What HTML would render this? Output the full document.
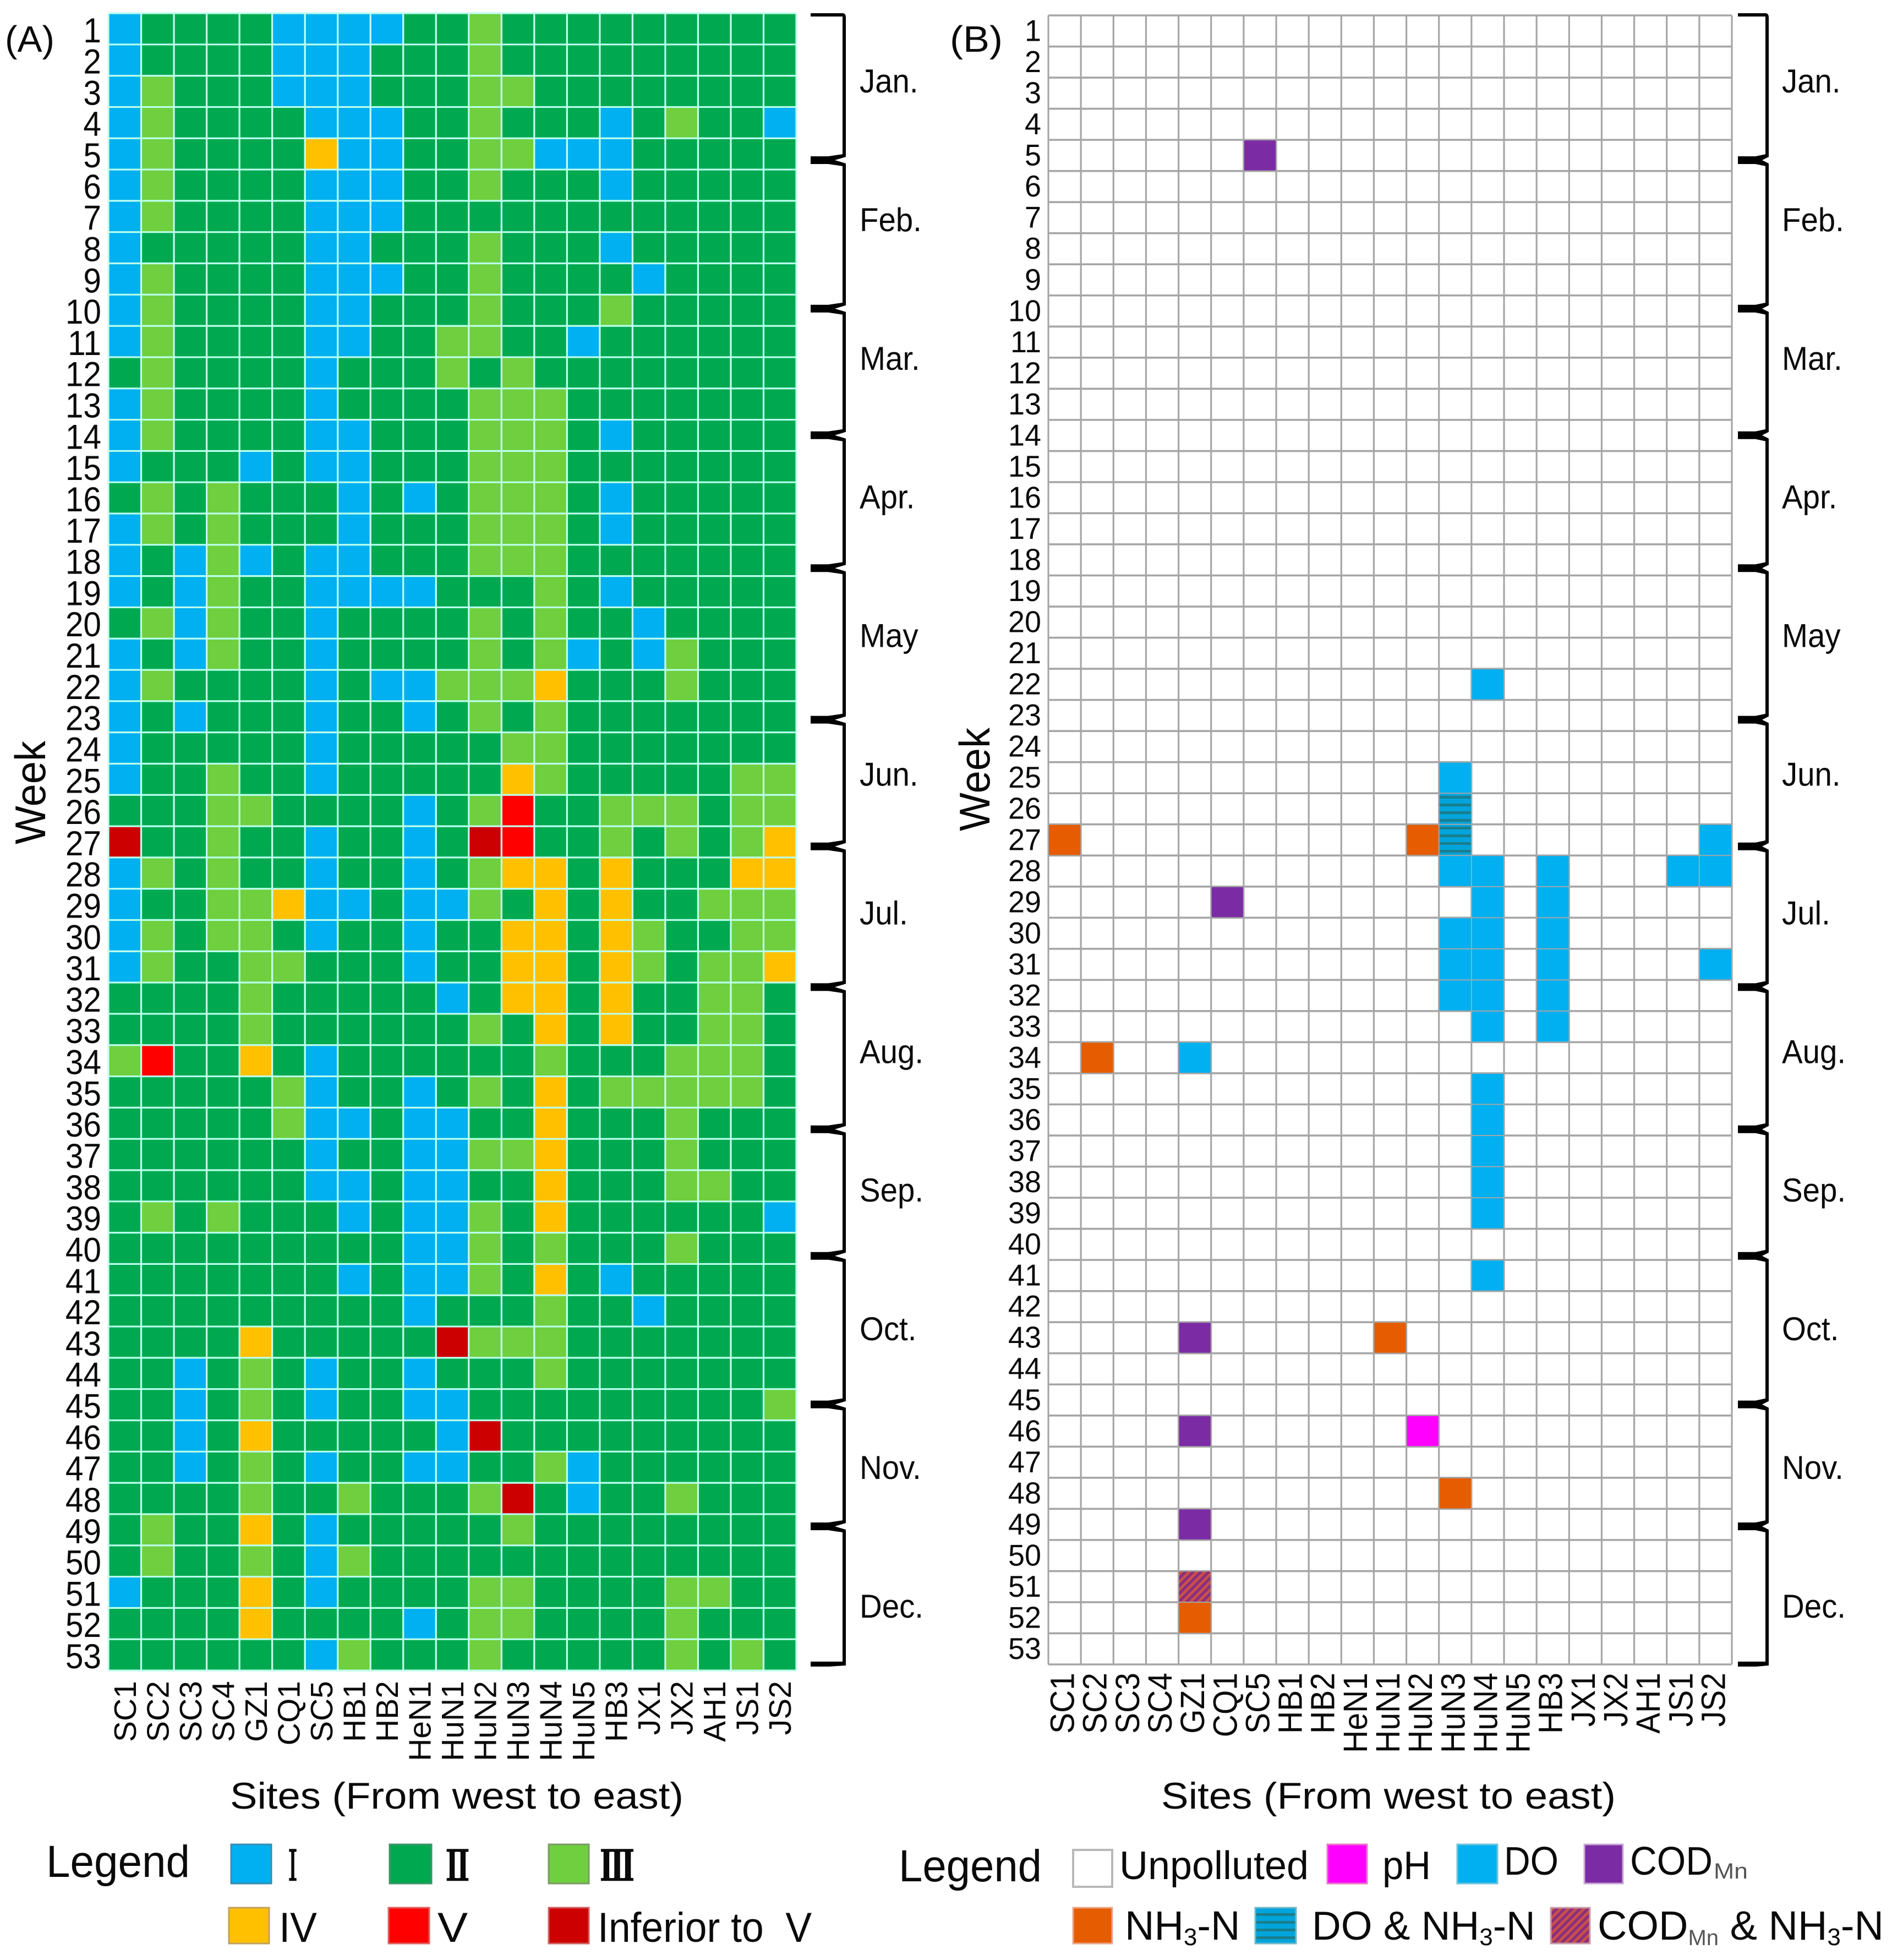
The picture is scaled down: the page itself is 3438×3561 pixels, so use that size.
<!DOCTYPE html>
<html lang="en">
<head>
<meta charset="utf-8">
<title>Weekly water quality heatmaps</title>
<style>
html,body{margin:0;padding:0;background:#fff;}
svg{display:block;}
text{font-family:"Liberation Sans","Noto Sans CJK SC",sans-serif;fill:#0a0a0a;}
.roman{font-family:"Noto Serif CJK SC","Liberation Serif",serif;font-weight:bold;stroke:#0a0a0a;stroke-width:2.5;}
</style>
</head>
<body>
<svg id="chart" xmlns="http://www.w3.org/2000/svg" width="3438" height="3561" viewBox="0 0 3438 3561">
  <defs>
    <pattern id="hatch-do-nh3" patternUnits="userSpaceOnUse" width="14" height="14">
      <rect width="14" height="14" fill="#00A4DC"/>
      <rect y="4" width="14" height="5" fill="#1A7F8E"/>
    </pattern>
    <pattern id="hatch-cod-nh3" patternUnits="userSpaceOnUse" width="10" height="10" patternTransform="rotate(45)">
      <rect width="10" height="10" fill="#C8504A"/>
      <rect width="5" height="10" fill="#8A2E7E"/>
    </pattern>
  </defs>
  <rect width="3438" height="3561" fill="#fff"/>
  <g id="panel-a"></g>
  <g id="panel-b"></g>

  <g>
    <text x="84" y="3410" font-size="82" textLength="261" lengthAdjust="spacingAndGlyphs">Legend</text>
    <rect x="420" y="3351" width="73" height="71" fill="#00B0F0" stroke="#3A8DB0" stroke-width="3"/>
    <text class="roman" x="516" y="3416" font-size="74" textLength="32" lengthAdjust="spacingAndGlyphs">Ⅰ</text>
    <rect x="708" y="3351" width="76" height="71" fill="#00A94F" stroke="#3F9468" stroke-width="3"/>
    <text class="roman" x="804" y="3416" font-size="74" textLength="55" lengthAdjust="spacingAndGlyphs">Ⅱ</text>
    <rect x="997" y="3351" width="73" height="71" fill="#6FCF3E" stroke="#7C9A68" stroke-width="3"/>
    <text class="roman" x="1091" y="3416" font-size="74" textLength="61" lengthAdjust="spacingAndGlyphs">Ⅲ</text>
    <rect x="416" y="3466" width="73" height="65" fill="#FFC000" stroke="#BFA060" stroke-width="3"/>
    <text x="507" y="3528" font-size="76" textLength="69" lengthAdjust="spacingAndGlyphs">IV</text>
    <rect x="706" y="3466" width="74" height="65" fill="#FF0000" stroke="#E06060" stroke-width="3"/>
    <text x="795" y="3528" font-size="76" textLength="55" lengthAdjust="spacingAndGlyphs">V</text>
    <rect x="997" y="3466" width="73" height="65" fill="#CC0000" stroke="#D06060" stroke-width="3"/>
    <text x="1086" y="3528" font-size="76" textLength="389" lengthAdjust="spacingAndGlyphs" xml:space="preserve">Inferior to  V</text>
  </g>

  <g>
    <text x="1633" y="3418" font-size="82" textLength="260" lengthAdjust="spacingAndGlyphs">Legend</text>
    <rect x="1950" y="3361" width="71" height="67" fill="#fff" stroke="#B8B8B8" stroke-width="4"/>
    <text x="2034" y="3414" font-size="72" textLength="344" lengthAdjust="spacingAndGlyphs">Unpolluted</text>
    <rect x="2412" y="3351" width="72" height="71" fill="#FF00FF" stroke="#E878C8" stroke-width="3"/>
    <text x="2512" y="3414" font-size="72" textLength="88" lengthAdjust="spacingAndGlyphs">pH</text>
    <rect x="2648" y="3351" width="73" height="71" fill="#00B0F0" stroke="#70C4DC" stroke-width="3"/>
    <text x="2733" y="3406" font-size="72" textLength="99" lengthAdjust="spacingAndGlyphs">DO</text>
    <rect x="2879" y="3351" width="70" height="71" fill="#7B2CA4" stroke="#C8A8D4" stroke-width="3"/>
    <text x="2962" y="3406" font-size="72" textLength="150" lengthAdjust="spacingAndGlyphs">COD</text>
    <text x="3114" y="3413" font-size="40" textLength="62" lengthAdjust="spacingAndGlyphs" style="fill:#555">Mn</text>
    <rect x="1950" y="3466" width="71" height="65" fill="#E65C00" stroke="#E8A888" stroke-width="3"/>
    <text x="2044" y="3524" font-size="74">NH<tspan font-size="44" dy="10">3</tspan><tspan dy="-10">-N</tspan></text>
    <rect x="2281" y="3466" width="74" height="65" fill="url(#hatch-do-nh3)" stroke="#70B8C8" stroke-width="3"/>
    <text x="2384" y="3524" font-size="73">DO &amp; NH<tspan font-size="44" dy="10">3</tspan><tspan dy="-10">-N</tspan></text>
    <rect x="2818" y="3466" width="71" height="65" fill="url(#hatch-cod-nh3)" stroke="#C89CA8" stroke-width="3"/>
    <text x="2903" y="3524" font-size="74">COD<tspan font-size="40" dy="10" style="fill:#555">Mn</tspan><tspan dy="-10"> &amp; NH</tspan><tspan font-size="44" dy="10">3</tspan><tspan dy="-10">-N</tspan></text>
  </g>
</svg>

<script>
// ---------- chart data ----------
const sites = ['SC1','SC2','SC3','SC4','GZ1','CQ1','SC5','HB1','HB2','HeN1','HuN1','HuN2','HuN3','HuN4','HuN5','HB3','JX1','JX2','AH1','JS1','JS2'];
const months = ['Jan.','Feb.','Mar.','Apr.','May','Jun.','Jul.','Aug.','Sep.','Oct.','Nov.','Dec.'];
// Week value at which each month's bracket closes
const monthEndWeeks = [4.7,9.45,13.5,17.75,22.6,26.65,31.15,35.7,39.75,44.5,48.4,52.85];
// Panel A: water-quality grade per week (rows) and site (columns). 1=I 2=II 3=III 4=IV 5=V 6=inferior to V
const gradeByWeek = [
[1,2,2,2,2,1,1,1,1,2,2,3,2,2,2,2,2,2,2,2,2],
[1,2,2,2,2,1,1,1,2,2,2,3,2,2,2,2,2,2,2,2,2],
[1,3,2,2,2,1,1,1,2,2,2,3,3,2,2,2,2,2,2,2,2],
[1,3,2,2,2,2,1,1,1,2,2,3,2,2,2,1,2,3,2,2,1],
[1,3,2,2,2,2,4,1,1,2,2,3,3,1,1,1,2,2,2,2,2],
[1,3,2,2,2,2,1,1,1,2,2,3,2,2,2,1,2,2,2,2,2],
[1,3,2,2,2,2,1,1,1,2,2,2,2,2,2,2,2,2,2,2,2],
[1,2,2,2,2,2,1,1,2,2,2,3,2,2,2,1,2,2,2,2,2],
[1,3,2,2,2,2,1,1,1,2,2,3,2,2,2,2,1,2,2,2,2],
[1,3,2,2,2,2,1,1,2,2,2,3,2,2,2,3,2,2,2,2,2],
[1,3,2,2,2,2,1,1,2,2,3,3,2,2,1,2,2,2,2,2,2],
[2,3,2,2,2,2,1,2,2,2,3,2,3,2,2,2,2,2,2,2,2],
[1,3,2,2,2,2,1,2,2,2,2,3,3,3,2,2,2,2,2,2,2],
[1,3,2,2,2,2,1,1,2,2,2,3,3,3,2,1,2,2,2,2,2],
[1,2,2,2,1,2,1,1,2,2,2,3,3,3,2,2,2,2,2,2,2],
[2,3,2,3,2,2,2,1,2,1,2,3,3,3,2,1,2,2,2,2,2],
[1,3,2,3,2,2,2,1,2,2,2,3,3,3,2,1,2,2,2,2,2],
[1,2,1,3,1,2,1,1,2,2,2,3,3,3,2,2,2,2,2,2,2],
[1,2,1,3,2,2,1,1,1,1,2,2,2,3,2,1,2,2,2,2,2],
[2,3,1,3,2,2,1,2,2,2,2,3,2,3,2,2,1,2,2,2,2],
[1,2,1,3,2,2,1,2,2,2,2,3,2,3,1,2,1,3,2,2,2],
[1,3,2,2,2,2,1,2,1,1,3,3,3,4,2,2,2,3,2,2,2],
[1,2,1,2,2,2,1,2,2,1,2,3,2,3,2,2,2,2,2,2,2],
[1,2,2,2,2,2,1,2,2,2,2,2,3,3,2,2,2,2,2,2,2],
[1,2,2,3,2,2,1,2,2,2,2,2,4,3,2,2,2,2,2,3,3],
[2,2,2,3,3,2,2,2,2,1,2,3,5,2,2,3,3,3,2,3,3],
[6,2,2,3,2,2,1,2,2,1,2,6,5,2,2,3,2,3,2,3,4],
[1,3,2,3,2,2,1,2,2,1,2,3,4,4,2,4,2,2,2,4,4],
[1,2,2,3,3,4,1,1,2,1,1,3,2,4,2,4,2,2,3,3,3],
[1,3,2,3,3,2,1,2,2,1,2,2,4,4,2,4,3,2,2,3,3],
[1,3,2,2,3,3,2,2,2,1,2,2,4,4,2,4,3,2,3,3,4],
[2,2,2,2,3,2,2,2,2,2,1,2,4,4,2,4,2,2,3,3,2],
[2,2,2,2,3,2,2,2,2,2,2,3,2,4,2,4,2,2,3,3,2],
[3,5,2,2,4,2,1,2,2,2,2,2,2,3,2,2,2,3,3,3,2],
[2,2,2,2,2,3,1,2,2,1,2,3,2,4,2,3,3,3,3,3,2],
[2,2,2,2,2,3,1,1,2,1,1,2,2,4,2,2,2,3,2,2,2],
[2,2,2,2,2,2,1,2,2,1,1,3,3,4,2,2,2,3,2,2,2],
[2,2,2,2,2,2,1,1,2,1,1,2,2,4,2,2,2,3,3,2,2],
[2,3,2,3,2,2,2,1,2,1,1,3,2,4,2,2,2,2,2,2,1],
[2,2,2,2,2,2,2,2,2,1,1,3,2,3,2,2,2,3,2,2,2],
[2,2,2,2,2,2,2,1,2,1,1,3,2,4,2,1,2,2,2,2,2],
[2,2,2,2,2,2,2,2,2,1,2,2,2,3,2,2,1,2,2,2,2],
[2,2,2,2,4,2,2,2,2,2,6,3,3,3,2,2,2,2,2,2,2],
[2,2,1,2,3,2,1,2,2,1,2,2,2,3,2,2,2,2,2,2,2],
[2,2,1,2,3,2,1,2,2,1,1,2,2,2,2,2,2,2,2,2,3],
[2,2,1,2,4,2,2,2,2,2,1,6,2,2,2,2,2,2,2,2,2],
[2,2,1,2,3,2,1,2,2,1,1,2,2,3,1,2,2,2,2,2,2],
[2,2,2,2,3,2,2,3,2,2,2,3,6,2,1,2,2,3,2,2,2],
[2,3,2,2,4,2,1,2,2,2,2,2,3,2,2,2,2,2,2,2,2],
[2,3,2,2,3,2,1,3,2,2,2,2,2,2,2,2,2,2,2,2,2],
[1,2,2,2,4,2,1,2,2,2,2,3,3,2,2,2,2,3,3,2,2],
[2,2,2,2,4,2,2,2,2,1,2,3,3,2,2,2,2,3,2,2,2],
[2,2,2,2,2,2,1,3,2,2,2,3,2,2,2,2,2,3,2,3,2]
];
// Panel B: polluted samples as parallel arrays (week number, site index, pollutant type)
const pollutedWeeks = [5,22,25,26,27,27,27,27,28,28,28,28,28,29,29,29,30,30,30,31,31,31,31,32,32,32,33,33,34,34,35,36,37,38,39,41,43,43,46,46,48,49,51,52];
const pollutedSites = [6,13,12,12,12,0,11,20,12,13,15,19,20,5,13,15,12,13,15,12,13,15,20,12,13,15,13,15,1,4,13,13,13,13,13,13,4,10,4,11,12,4,4,4];
const pollutedTypes = ['COD','DO','DO','DO_NH3','DO_NH3','NH3','NH3','DO','DO','DO','DO','DO','DO','COD','DO','DO','DO','DO','DO','DO','DO','DO','DO','DO','DO','DO','DO','DO','NH3','DO','DO','DO','DO','DO','DO','DO','COD','NH3','COD','PH','NH3','COD','COD_NH3','NH3'];

// ---------- styling and layout ----------
const gradeColors = {1:'#00B0F0',2:'#00A94F',3:'#6FCF3E',4:'#FFC000',5:'#FF0000',6:'#CC0000'};
const pollutantFills = {PH:'#FF00FF',DO:'#00B0F0',COD:'#7B2CA4',NH3:'#E65C00',DO_NH3:'url(#hatch-do-nh3)',COD_NH3:'url(#hatch-cod-nh3)'};
const SVGNS = 'http://www.w3.org/2000/svg';
const weekCount = gradeByWeek.length;
const siteCount = sites.length;

const layoutA = {x0:197,x1:1447,y0:24,y1:3035};
const layoutB = {x0:1905,x1:3147,y0:28,y1:3024};
function xScale(layout, siteIndex){ return layout.x0 + (layout.x1 - layout.x0) * siteIndex / siteCount; }
function yScale(layout, weekPosition){ return layout.y0 + (layout.y1 - layout.y0) * weekPosition / weekCount; }
function bracketY(weekPosition){ return 24 + 56.8 * weekPosition; }

function make(tag, parent, props){
  const el = document.createElementNS(SVGNS, tag);
  for (const k in props) el.setAttribute(k, props[k]);
  parent.appendChild(el);
  return el;
}

function drawAxesText(g, layout, opts){
  // week labels
  for (let w = 1; w <= weekCount; w++){
    const y = yScale(layout, w) - opts.weekBaselineOffset;
    const t = make('text', g, {transform:`translate(${opts.weekRight},${y}) scale(${opts.weekScale},1)`,'font-size':opts.weekFont,'text-anchor':'end'});
    t.textContent = String(w);
    
    
  }
  // site labels
  sites.forEach(function(name, i){
    const cx = (xScale(layout, i) + xScale(layout, i + 1)) / 2 + opts.siteOffset;
    const t = make('text', g, {transform:`translate(${cx},${opts.siteTop}) rotate(-90) scale(1,${opts.siteCross})`,'font-size':57,'text-anchor':'end'});
    t.textContent = name;
    
    
  });
  // axis titles
  const xt = make('text', g, {x:opts.xTitleX,y:3286,'font-size':68,textLength:opts.xTitleLen,lengthAdjust:'spacingAndGlyphs'});
  xt.textContent = 'Sites (From west to east)';
  
  
  const yt = make('text', g, {transform:`translate(${opts.yTitleX},${opts.yTitleY}) rotate(-90)`,'font-size':78,'text-anchor':'middle',textLength:188,lengthAdjust:'spacingAndGlyphs'});
  yt.textContent = 'Week';
  
  
  const tag = make('text', g, {x:opts.tagX,y:94,'font-size':67,textLength:opts.tagLen,lengthAdjust:'spacingAndGlyphs'});
  tag.textContent = opts.tag;
  
  
}

function drawBrackets(g, opts){
  const x0 = opts.bracketLeft, xv = opts.bracketSpine, sw = 6;
  let prev = bracketY(0);
  // top arm
  const top = make('path', g, {d:`M${x0},${prev} H${xv-3} Q${xv+3},${prev} ${xv+3},${prev+8} V${prev+12} H${xv-3} V${prev+6} H${x0} Z`,fill:'#000'});
  
  
  months.forEach(function(m, i){
    const end = bracketY(monthEndWeeks[i]);
    const startOffset = i === 0 ? 10 : 9;
    const spine = make('rect', g, {x:xv-sw/2,y:prev+startOffset,width:sw,height:end-prev-startOffset-9,fill:'#000'});
    
    
    let joint;
    if (i < months.length - 1){
      joint = make('path', g, {d:`M${x0},${end-7} L${x0+32},${end-7} L${xv-2},${end-11} L${xv+3},${end-11} L${xv+3},${end-6} L${x0+44},${end} L${xv+3},${end+6} L${xv+3},${end+11} L${xv-2},${end+11} L${x0+32},${end+7} L${x0},${end+7} Z`,fill:'#000'});
    } else {
      joint = make('path', g, {d:`M${x0},${end-7} L${xv-3},${end-7} L${xv-3},${end-12} L${xv+3},${end-12} L${xv+3},${end} L${x0+34},${end+2} L${x0},${end+2} Z`,fill:'#000'});
    }
    
    
    const label = make('text', g, {transform:`translate(${opts.monthX},${168 + 251.9 * i}) scale(0.94,1)`,'font-size':60});
    label.textContent = m;
    
    
    prev = end;
  });
}

// ---------- panel A ----------
const gA = document.getElementById('panel-a');
gradeByWeek.forEach(function(row, w){
  row.forEach(function(grade, s){
    const x = xScale(layoutA, s), y = yScale(layoutA, w);
    const cell = make('rect', gA, {x:x,y:y,width:xScale(layoutA,s+1)-x,height:yScale(layoutA,w+1)-y,fill:gradeColors[grade]});
    
    
  });
});
for (let s = 0; s <= siteCount; s++){
  const x = xScale(layoutA, s);
  const line = make('line', gA, {x1:x,x2:x,y1:layoutA.y0,y2:layoutA.y1,stroke:'#C4FFF0','stroke-width':3.2});
  
  
}
for (let w = 0; w <= weekCount; w++){
  const y = yScale(layoutA, w);
  const line = make('line', gA, {x1:layoutA.x0,x2:layoutA.x1,y1:y,y2:y,stroke:'#BDFFEE','stroke-width':3.2});
  
  
}
drawAxesText(gA, layoutA, {weekRight:184,weekScale:0.93,weekFont:63,weekBaselineOffset:4,siteOffset:20,siteTop:3054,siteCross:1,xTitleX:418,xTitleLen:824,yTitleX:82,yTitleY:1440,tag:'(A)',tagX:9,tagLen:90});
drawBrackets(gA, {bracketLeft:1473,bracketSpine:1534,monthX:1562});

// ---------- panel B ----------
const gB = document.getElementById('panel-b');
for (let s = 0; s <= siteCount; s++){
  const x = xScale(layoutB, s);
  const line = make('line', gB, {x1:x,x2:x,y1:layoutB.y0,y2:layoutB.y1,stroke:'#A6A6A6','stroke-width':3.2});
  
  
}
for (let w = 0; w <= weekCount; w++){
  const y = yScale(layoutB, w);
  const line = make('line', gB, {x1:layoutB.x0,x2:layoutB.x1,y1:y,y2:y,stroke:'#A6A6A6','stroke-width':3.6});
  
  
}
pollutedWeeks.forEach(function(week, i){
  const s = pollutedSites[i];
  const x = xScale(layoutB, s), y = yScale(layoutB, week - 1);
  const cell = make('rect', gB, {x:x+1,y:y+1,width:xScale(layoutB,s+1)-x-2,height:yScale(layoutB,week)-y-2,fill:pollutantFills[pollutedTypes[i]]});
  
  
});
drawAxesText(gB, layoutB, {weekRight:1892,weekScale:0.98,weekFont:55,weekBaselineOffset:10,siteOffset:17,siteTop:3039,siteCross:1.08,xTitleX:2110,xTitleLen:826,yTitleX:1798,yTitleY:1416,tag:'(B)',tagX:1726,tagLen:96});
drawBrackets(gB, {bracketLeft:3158,bracketSpine:3211,monthX:3238});
</script>
</body>
</html>
